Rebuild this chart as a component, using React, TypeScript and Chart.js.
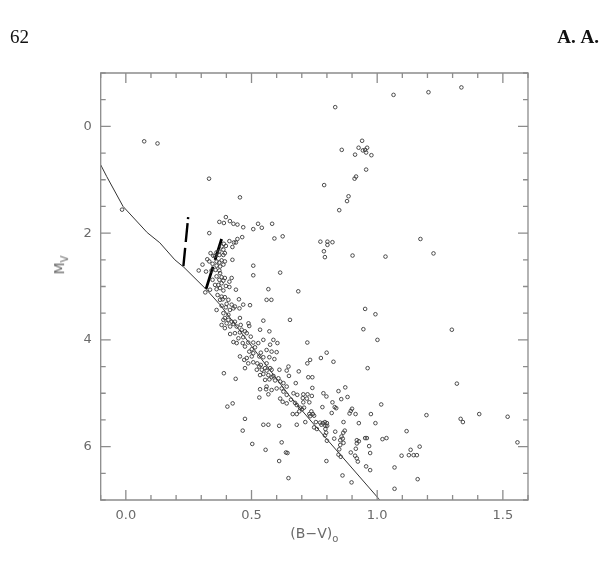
import React, { useEffect, useRef } from 'react';
import { Chart, registerables } from 'chart.js';

Chart.register(...registerables);

// Tick values / labels
const xTickValues = [-0.1, 0.0, 0.1, 0.2, 0.3, 0.4, 0.5, 0.6, 0.7, 0.8, 0.9, 1.0, 1.1, 1.2, 1.3, 1.4, 1.5, 1.6];
const xMajorTicks = [0.0, 0.5, 1.0, 1.5];
const xTickLabels = ['0.0', '0.5', '1.0', '1.5'];
const yTickValues = [-1, -0.5, 0, 0.5, 1, 1.5, 2, 2.5, 3, 3.5, 4, 4.5, 5, 5.5, 6, 6.5, 7];
const yMajorTicks = [0, 2, 4, 6];
const yTickLabels = ['0', '2', '4', '6'];

// Stars: [ (B-V)0 , Mv ]
const brightStars = [
  [0.073, 0.28], [0.126, 0.32], [0.331, 0.98], [-0.015, 1.56], [0.454, 1.33],
  [0.833, -0.36], [1.065, -0.59], [1.204, -0.64], [1.335, -0.73],
  [0.94, 0.27], [0.859, 0.44], [0.926, 0.40], [0.952, 0.44], [0.960, 0.40], [0.943, 0.45], [0.956, 0.49],
  [0.912, 0.53], [0.977, 0.54], [0.956, 0.81], [0.916, 0.94], [0.910, 0.98], [0.789, 1.10], [0.886, 1.31],
  [0.880, 1.40], [0.849, 1.57],
  [0.774, 2.16], [0.802, 2.16], [0.822, 2.17], [0.802, 2.22], [0.788, 2.34], [0.792, 2.45], [0.902, 2.42],
  [1.033, 2.44], [1.172, 2.11], [1.224, 2.38],
  [0.993, 3.52], [1.297, 3.81], [1.001, 4.0], [1.317, 4.82], [0.952, 3.42], [0.945, 3.80], [0.962, 4.53],
];

const turnoffStars = [
  [0.398, 1.70], [0.372, 1.79], [0.390, 1.81], [0.414, 1.775], [0.428, 1.825], [0.444, 1.84], [0.467, 1.89],
  [0.332, 2.0], [0.526, 1.825], [0.541, 1.90], [0.507, 1.925], [0.582, 1.825], [0.463, 2.075], [0.444, 2.11],
  [0.438, 2.175], [0.412, 2.15], [0.430, 2.175], [0.424, 2.26], [0.390, 2.20], [0.398, 2.24], [0.381, 2.25],
  [0.388, 2.31], [0.372, 2.34], [0.361, 2.36], [0.337, 2.375], [0.348, 2.425], [0.355, 2.425], [0.372, 2.41],
  [0.388, 2.41], [0.394, 2.375], [0.324, 2.49], [0.332, 2.53], [0.345, 2.575], [0.361, 2.53], [0.372, 2.55],
  [0.381, 2.51], [0.394, 2.53], [0.388, 2.59], [0.375, 2.625], [0.361, 2.61], [0.305, 2.59], [0.290, 2.70],
  [0.319, 2.72], [0.341, 2.70], [0.357, 2.69], [0.372, 2.70], [0.375, 2.75], [0.424, 2.50], [0.507, 2.61],
  [0.591, 2.10], [0.624, 2.06], [0.614, 2.74], [0.507, 2.79], [0.361, 2.81], [0.381, 2.825], [0.394, 2.84],
  [0.421, 2.84], [0.412, 2.91], [0.388, 2.89], [0.372, 2.875], [0.345, 2.875], [0.355, 2.97], [0.368, 2.97],
  [0.381, 2.94], [0.398, 2.99], [0.412, 3.01], [0.438, 3.06], [0.375, 3.03], [0.388, 3.075], [0.361, 3.05],
  [0.335, 3.06], [0.316, 3.11], [0.567, 3.05], [0.365, 3.16], [0.381, 3.19], [0.394, 3.20], [0.408, 3.25],
  [0.385, 3.24], [0.375, 3.25], [0.450, 3.24], [0.401, 3.325], [0.421, 3.34], [0.428, 3.41], [0.414, 3.44],
  [0.434, 3.375], [0.452, 3.41], [0.467, 3.34], [0.494, 3.35], [0.361, 3.44], [0.381, 3.36], [0.398, 3.39],
  [0.388, 3.50], [0.408, 3.53], [0.454, 3.59], [0.394, 3.59], [0.560, 3.25], [0.579, 3.25], [0.686, 3.09],
];

const upperMS = [
  [0.388, 3.625], [0.408, 3.625], [0.421, 3.66], [0.434, 3.66], [0.401, 3.69], [0.381, 3.72], [0.428, 3.70],
  [0.415, 3.75], [0.394, 3.78], [0.441, 3.75], [0.457, 3.72], [0.488, 3.69], [0.491, 3.74], [0.461, 3.81],
  [0.474, 3.84], [0.454, 3.86], [0.434, 3.875], [0.415, 3.89], [0.481, 3.875], [0.547, 3.64], [0.653, 3.625],
  [0.534, 3.81], [0.571, 3.84], [0.497, 3.94], [0.467, 3.95], [0.448, 3.97], [0.428, 4.04], [0.465, 4.06],
  [0.487, 4.05], [0.441, 4.06], [0.507, 4.05], [0.527, 4.06], [0.547, 4.0], [0.587, 4.0], [0.574, 4.09],
  [0.603, 4.06], [0.514, 4.14], [0.501, 4.175], [0.474, 4.125], [0.491, 4.22], [0.507, 4.25], [0.537, 4.24],
  [0.560, 4.19], [0.580, 4.22], [0.600, 4.23], [0.454, 4.31], [0.471, 4.375], [0.481, 4.34], [0.501, 4.31],
  [0.531, 4.31], [0.547, 4.325], [0.571, 4.325], [0.591, 4.36], [0.487, 4.44], [0.507, 4.42], [0.523, 4.44],
  [0.537, 4.47], [0.560, 4.44], [0.554, 4.53], [0.531, 4.50], [0.474, 4.53], [0.521, 4.56], [0.541, 4.56],
  [0.560, 4.575], [0.574, 4.53], [0.580, 4.56], [0.547, 4.64], [0.567, 4.66], [0.587, 4.675], [0.534, 4.66],
  [0.611, 4.56], [0.647, 4.50], [0.640, 4.575], [0.722, 4.05], [0.799, 4.24], [0.776, 4.34], [0.733, 4.375],
  [0.722, 4.44], [0.826, 4.41], [0.390, 4.625], [0.437, 4.73], [0.554, 4.75], [0.571, 4.74], [0.594, 4.76],
  [0.580, 4.70], [0.607, 4.72], [0.614, 4.78], [0.627, 4.81], [0.649, 4.675], [0.640, 4.875], [0.620, 4.91],
  [0.600, 4.91], [0.560, 4.875], [0.580, 4.94], [0.558, 4.925], [0.534, 4.925], [0.567, 5.02], [0.627, 4.97],
  [0.640, 5.03], [0.531, 5.08], [0.614, 5.10], [0.624, 5.16], [0.640, 5.19], [0.404, 5.25], [0.425, 5.19],
  [0.474, 5.48],
];

const lowerMS = [
  [0.873, 4.89], [0.846, 4.96], [0.786, 5.0], [0.798, 5.06], [0.882, 5.07], [0.857, 5.11], [0.822, 5.17],
  [0.831, 5.26], [0.837, 5.28], [0.900, 5.29], [0.895, 5.33], [0.890, 5.38], [0.914, 5.39], [0.819, 5.37],
  [0.782, 5.26], [0.742, 4.9], [0.726, 4.7], [0.742, 4.7], [0.676, 4.81], [0.688, 4.59], [0.740, 5.05],
  [0.723, 5.02], [0.706, 5.02], [0.720, 5.1], [0.704, 5.09], [0.682, 5.03], [0.667, 5.0], [0.657, 5.12],
  [0.673, 5.18], [0.68, 5.22], [0.706, 5.17], [0.730, 5.17], [0.709, 5.27], [0.701, 5.3], [0.693, 5.27],
  [0.664, 5.39], [0.738, 5.34], [0.730, 5.39], [0.744, 5.39], [0.733, 5.43], [0.749, 5.42], [0.756, 5.54],
  [0.773, 5.55], [0.784, 5.56], [0.792, 5.54], [0.8, 5.56], [0.794, 5.61], [0.778, 5.59], [0.801, 5.61],
  [0.714, 5.54], [0.680, 5.59], [0.749, 5.64], [0.760, 5.67], [0.794, 5.67], [0.797, 5.74], [0.792, 5.79],
  [0.8, 5.89], [0.866, 5.54], [0.871, 5.70], [0.865, 5.74], [0.927, 5.56], [0.975, 5.39], [0.993, 5.56],
  [0.952, 5.84], [0.959, 5.84], [0.919, 5.88], [0.927, 5.9], [0.919, 5.94], [0.915, 6.04], [0.968, 5.99],
  [0.972, 6.12], [0.895, 6.11], [0.853, 5.88], [0.863, 5.85], [0.853, 5.97], [0.866, 5.93], [0.829, 5.85],
  [0.849, 6.05], [0.846, 6.15], [0.855, 6.19], [0.912, 6.17], [0.919, 6.22], [0.923, 6.28], [0.956, 6.37],
  [0.972, 6.44], [0.798, 6.27], [0.862, 6.54], [0.898, 6.67], [0.69, 5.34], [0.68, 5.39], [0.833, 5.72],
  [0.858, 5.81],
];

const faintStars = [
  [1.016, 5.21], [1.196, 5.41], [1.332, 5.48], [1.341, 5.54], [1.406, 5.39], [1.519, 5.44], [1.558, 5.92],
  [1.117, 5.71], [1.021, 5.86], [1.037, 5.84], [1.169, 6.0], [1.133, 6.06], [1.097, 6.17], [1.126, 6.16],
  [1.145, 6.16], [1.158, 6.16], [1.069, 6.39], [1.161, 6.61], [1.069, 6.79], [0.465, 5.70], [0.503, 5.95],
  [0.547, 5.59], [0.567, 5.59], [0.610, 5.61], [0.556, 6.06], [0.620, 5.92], [0.637, 6.11], [0.643, 6.12],
  [0.610, 6.27], [0.647, 6.59],
];

// Main-sequence curve
const msCurveBV = [-0.1, -0.076, -0.011, 0.085, 0.135, 0.195, 0.231, 0.321, 0.3745, 0.441, 0.653, 0.733, 1.005, 1.02];
const msCurveMV = [0.72, 0.94, 1.5, 1.99, 2.18, 2.5, 2.64, 3.06, 3.34, 3.75, 5.06, 5.5, 6.97, 7.06];

// Dashed tracks
const track1BV = [0.248, 0.229];
const track1MV = [1.70, 2.62];
const track2BV = [0.381, 0.319];
const track2MV = [2.11, 3.05];

const near = (a: number, b: number) => Math.abs(a - b) < 1e-6;
const toPts = (arr: number[][]) => arr.map(([x, y]) => ({ x, y }));
const zipPts = (xs: number[], ys: number[]) => xs.map((x, i) => ({ x, y: ys[i] }));

const FRAME = '#8c8c8c';
const LABEL = '#6a6a6a';

const framePlugin = {
  id: 'frameTicks',
  afterDatasetsDraw(chart: any) {
    const { ctx, chartArea: a, scales } = chart;
    const xs = scales.x;
    const ys = scales.y;
    ctx.save();
    ctx.strokeStyle = FRAME;
    ctx.lineWidth = 1.3;
    ctx.beginPath();
    ctx.rect(a.left, a.top, a.right - a.left, a.bottom - a.top);
    ctx.stroke();
    ctx.beginPath();
    xTickValues.forEach((v) => {
      const px = xs.getPixelForValue(v);
      const len = xMajorTicks.some((m) => near(m, v)) ? 10 : 5;
      ctx.moveTo(px, a.bottom);
      ctx.lineTo(px, a.bottom - len);
      ctx.moveTo(px, a.top);
      ctx.lineTo(px, a.top + len);
    });
    yTickValues.forEach((v) => {
      const py = ys.getPixelForValue(v);
      const len = yMajorTicks.some((m) => near(m, v)) ? 10 : 5;
      ctx.moveTo(a.left, py);
      ctx.lineTo(a.left + len, py);
      ctx.moveTo(a.right, py);
      ctx.lineTo(a.right - len, py);
    });
    ctx.stroke();
    ctx.restore();
  },
};

const starStyle = {
  showLine: false,
  pointRadius: 1.8,
  pointBorderWidth: 0.9,
  pointBorderColor: '#3a3a3a',
  pointBackgroundColor: 'rgba(0,0,0,0)',
  pointHoverRadius: 1.8,
};

export default function App() {
  const ref = useRef<HTMLCanvasElement | null>(null);

  useEffect(() => {
    if (!ref.current) return;
    const chart = new Chart(ref.current, {
      type: 'scatter',
      data: {
        datasets: [
          { data: toPts(brightStars), ...starStyle },
          { data: toPts(turnoffStars), ...starStyle },
          { data: toPts(upperMS), ...starStyle },
          { data: toPts(lowerMS), ...starStyle },
          { data: toPts(faintStars), ...starStyle },
          {
            data: zipPts(msCurveBV, msCurveMV),
            showLine: true,
            borderColor: '#333',
            borderWidth: 1,
            pointRadius: 0,
            tension: 0,
          },
          {
            data: zipPts(track1BV, track1MV),
            showLine: true,
            borderColor: '#000',
            borderWidth: 2.4,
            borderDash: [2, 4, 19, 6, 20],
            pointRadius: 0,
          },
          {
            data: zipPts(track2BV, track2MV),
            showLine: true,
            borderColor: '#000',
            borderWidth: 2.8,
            borderDash: [22, 7, 25],
            pointRadius: 0,
          },
        ] as any,
      },
      options: {
        animation: false,
        responsive: false,
        devicePixelRatio: 1,
        layout: { padding: { left: 0, right: 79, top: 73, bottom: 24 } },
        plugins: { legend: { display: false }, tooltip: { enabled: false } },
        scales: {
          x: {
            type: 'linear',
            min: -0.1,
            max: 1.6,
            afterBuildTicks: (s: any) => {
              s.ticks = xTickValues.map((v) => ({ value: v }));
            },
            afterFit: (s: any) => {
              s.height = 40;
            },
            grid: { display: false, drawTicks: false },
            border: { display: false },
            ticks: {
              autoSkip: false,
              maxRotation: 0,
              padding: 8,
              color: LABEL,
              font: { family: 'DejaVu Sans', size: 13 },
              callback: (v: any) => {
                const i = xMajorTicks.findIndex((m) => near(m, Number(v)));
                return i >= 0 ? xTickLabels[i] : '';
              },
            },
          },
          y: {
            type: 'linear',
            min: -1,
            max: 7,
            reverse: true,
            afterBuildTicks: (s: any) => {
              s.ticks = yTickValues.map((v) => ({ value: v }));
            },
            afterFit: (s: any) => {
              s.width = 100.7;
            },
            grid: { display: false, drawTicks: false },
            border: { display: false },
            ticks: {
              autoSkip: false,
              padding: 9,
              color: LABEL,
              font: { family: 'DejaVu Sans', size: 13 },
              callback: (v: any) => {
                const i = yMajorTicks.findIndex((m) => near(m, Number(v)));
                return i >= 0 ? yTickLabels[i] : '';
              },
            },
          },
        },
      },
      plugins: [framePlugin],
    } as any);
    return () => chart.destroy();
  }, []);

  const serif = "'Liberation Serif', 'Times New Roman', serif";
  const sans = "'DejaVu Sans', sans-serif";

  return (
    <div style={{ position: 'absolute', left: 0, top: 0, width: 607, height: 564, background: '#fff', overflow: 'hidden' }}>
      <canvas ref={ref} width={607} height={564} style={{ position: 'absolute', left: 0, top: 0, width: 607, height: 564 }} />
      <div style={{ position: 'absolute', left: 10, top: 26, fontFamily: serif, fontSize: 19, color: '#111' }}>62</div>
      <div style={{ position: 'absolute', right: 8, top: 26, fontFamily: serif, fontSize: 19, fontWeight: 'bold', color: '#111', wordSpacing: 1 }}>A. A.</div>
      <div style={{ position: 'absolute', left: 100.7, width: 427.3, top: 524, textAlign: 'center', fontFamily: sans, fontSize: 14, color: LABEL, lineHeight: '18px' }}>
        (B−V)<sub style={{ fontSize: 10 }}>o</sub>
      </div>
      <div
        style={{
          position: 'absolute',
          left: 62,
          top: 265,
          transform: 'translate(-50%, -50%) rotate(-90deg)',
          fontFamily: sans,
          fontSize: 14,
          color: LABEL,
          whiteSpace: 'nowrap',
          lineHeight: '18px',
        }}
      >
        M<sub style={{ fontSize: 10 }}>V</sub>
      </div>
    </div>
  );
}
